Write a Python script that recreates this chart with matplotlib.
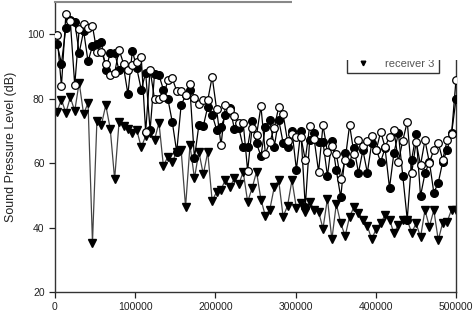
import numpy as np
import matplotlib.pyplot as plt
from matplotlib.patches import Rectangle

plt.rcParams['font.family'] = ['Liberation Sans', 'DejaVu Sans']

# ---- data (dB) ----
n_pts = 91
freq = np.linspace(2500, 500000, n_pts)

receiver1 = [99.9, 83.9, 106.2, 104.1, 84.2, 101.5, 103.3, 101.8, 102.5, 94.5,
             94.5, 90.9, 87.3, 88.0, 95.2, 90.9, 88.8, 90.4, 91.4, 92.8,
             69.7, 89.0, 79.8, 79.8, 80.6, 85.7, 86.3, 82.4, 82.4, 81.1,
             84.7, 80.1, 78.5, 79.5, 79.5, 86.8, 76.7, 65.6, 78.0, 76.4,
             74.7, 72.5, 72.5, 57.6, 71.0, 68.6, 77.6, 62.9, 66.6, 70.8,
             77.4, 75.2, 66.8, 69.0, 68.0, 68.2, 61.0, 71.5, 67.5, 57.3,
             71.8, 63.4, 65.4, 62.8, 55.1, 61.1, 71.8, 62.8, 67.3, 65.4,
             66.8, 68.4, 64.0, 69.7, 65.0, 68.2, 70.2, 60.5, 67.0, 72.8,
             56.8, 66.6, 59.4, 67.1, 60.1, 64.2, 66.2, 61.0, 67.1, 69.0,
             85.9]

receiver2 = [97.0, 90.9, 102.0, 104.3, 103.8, 94.2, 101.0, 91.6, 96.3, 97.1,
             97.6, 88.8, 94.2, 94.2, 88.8, 89.9, 81.4, 94.9, 89.4, 82.8,
             88.0, 70.2, 87.6, 87.3, 82.8, 80.0, 72.8, 63.5, 78.0, 81.0,
             82.6, 61.5, 71.8, 71.5, 77.5, 75.0, 70.4, 71.3, 74.9, 77.2,
             70.7, 71.0, 65.0, 65.0, 73.1, 66.1, 62.2, 71.3, 73.3, 65.0,
             73.5, 66.3, 65.0, 70.0, 58.0, 70.0, 46.5, 67.3, 69.4, 66.6,
             66.6, 56.0, 67.0, 57.8, 49.4, 63.0, 60.1, 64.6, 57.0, 64.0,
             57.0, 66.3, 64.2, 60.4, 64.6, 52.3, 63.2, 69.2, 56.0, 42.5,
             61.1, 69.0, 49.8, 56.8, 60.4, 50.8, 53.9, 60.4, 64.2, 69.2,
             79.8]

receiver3 = [75.9, 79.7, 75.6, 80.4, 76.2, 85.0, 75.2, 78.7, 35.3, 73.1,
             71.8, 78.0, 70.7, 55.0, 72.8, 71.5, 70.7, 69.4, 70.2, 64.9,
             68.4, 69.4, 67.3, 72.5, 59.1, 62.0, 60.4, 63.5, 64.0, 46.4,
             65.6, 55.3, 63.5, 56.5, 63.4, 48.2, 51.1, 51.8, 54.9, 52.5,
             55.3, 53.4, 57.3, 48.0, 52.2, 57.3, 48.7, 43.6, 45.6, 52.5,
             54.7, 43.4, 46.7, 54.7, 46.0, 47.5, 44.9, 48.0, 45.6, 44.9,
             39.7, 49.0, 36.3, 47.3, 41.3, 37.4, 43.4, 46.4, 44.6, 42.5,
             40.5, 36.3, 39.7, 41.3, 43.9, 42.5, 38.2, 40.8, 42.3, 42.3,
             38.4, 41.3, 37.0, 45.4, 40.3, 45.4, 36.1, 41.5, 41.8, 45.6,
             45.6]

fig = plt.figure(figsize=(4.77, 3.14), dpi=100)
ax = fig.add_axes([55/477, 1 - 292/314, 401/477, 290/314])

ax.plot(freq, receiver1, '-o', color='black', mfc='white', mec='black',
        ms=5.5, lw=0.9, mew=0.9, zorder=4, label='receiver 1')
ax.plot(freq, receiver2, '-o', color='black', mfc='black', mec='black',
        ms=5.5, lw=0.9, zorder=3, label='receiver 2')
ax.plot(freq, receiver3, '-v', color='#444444', mfc='black', mec='black',
        ms=5.5, lw=0.9, zorder=2, label='receiver 3')

ax.set_xlim(0, 500000)
ax.set_ylim(20, 110)
ax.set_xticks([0, 100000, 200000, 300000, 400000, 500000])
ax.set_yticks([20, 40, 60, 80, 100])
ax.tick_params(direction='out', length=4, width=0.9, labelsize=7.5,
               colors='#222222')
ax.set_ylabel('Sound Pressure Level (dB)', fontsize=9, color='#222222')
ax.yaxis.set_label_coords(-0.095, 0.5)

for side in ['left', 'bottom', 'right']:
    ax.spines[side].set_color('#333333')
    ax.spines[side].set_linewidth(1.0)
ax.spines['top'].set_color('#888888')
ax.spines['top'].set_linewidth(1.5)

leg = ax.legend(loc='lower left', bbox_to_anchor=(347/477, 1 - 73/314),
                bbox_transform=fig.transFigure, fontsize=8, fancybox=False,
                framealpha=1, edgecolor='#333333', borderaxespad=0,
                handlelength=2.2, handletextpad=0.9, markerscale=0.6,
                borderpad=0.35)
leg.get_frame().set_linewidth(1.0)
for ln in leg.get_lines():
    ln.set_linestyle('None')
for t in leg.get_texts():
    t.set_color('#555555')

# top right corner of the original is blank
fig.add_artist(Rectangle((292/477, 1 - 60/314), 1, 1, transform=fig.transFigure,
                         facecolor='white', edgecolor='none', zorder=10))

fig.savefig('out.png', dpi=100)
